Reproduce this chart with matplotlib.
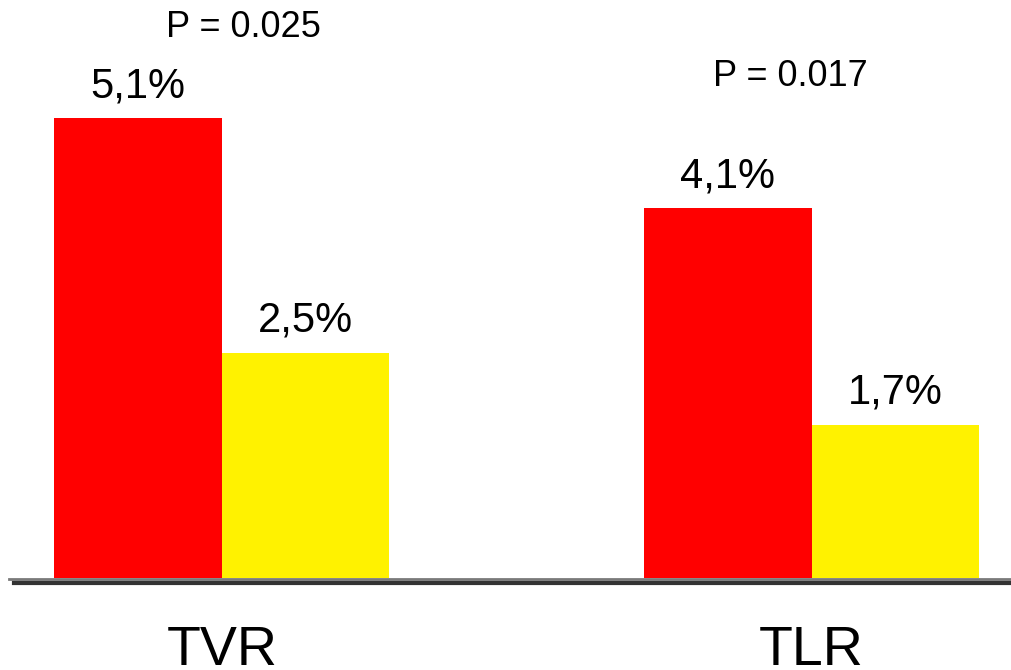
import matplotlib

matplotlib.use("Agg")
import matplotlib.pyplot as plt
import numpy as np

plt.rcParams["font.family"] = ["Liberation Sans", "DejaVu Sans"]

# data
categories = ["TVR", "TLR"]
group_a = [5.1, 4.1]
group_b = [2.5, 1.7]
labels_a = ["5,1%", "4,1%"]
labels_b = ["2,5%", "1,7%"]
p_values = ["P = 0.025", "P = 0.017"]

RED = "#FF0000"
YELLOW = "#FFF200"
WIDTH = 0.284

fig = plt.figure(figsize=(10.11, 6.7), dpi=100)
ax = fig.add_axes([9 / 1011, 1 - 578 / 670, 1 - 9 / 1011, 578 / 670])

x = np.arange(len(categories))
ax.bar(x - WIDTH / 2, group_a, WIDTH, color=RED, linewidth=0)
ax.bar(x + WIDTH / 2, group_b, WIDTH, color=YELLOW, linewidth=0)

for i in range(len(categories)):
    ax.text(x[i] - WIDTH / 2, group_a[i] + 0.23, labels_a[i], ha="center", va="baseline", fontsize=30)
    ax.text(x[i] + WIDTH / 2, group_b[i] + 0.23, labels_b[i], ha="center", va="baseline", fontsize=30)
    ax.text(x[i], -0.97, categories[i], ha="center", va="baseline", fontsize=40, clip_on=False)

# p-value annotations
ax.text(x[0] + 0.036, 6.0, p_values[0], ha="center", va="baseline", fontsize=26)
ax.text(x[1] - 0.036, 5.45, p_values[1], ha="center", va="baseline", fontsize=26)

# baseline with shadow
ax.axhline(-0.013, color="#7a7a7a", linewidth=2.0, clip_on=False)
ax.axhline(-0.05, xmin=5 / 1002, color="#333333", linewidth=3.0, clip_on=False)

ax.set_xlim(-0.361, 1.338)
ax.set_ylim(0, 578 / 90.2)
ax.axis("off")

fig.savefig("out.png", dpi=100)
